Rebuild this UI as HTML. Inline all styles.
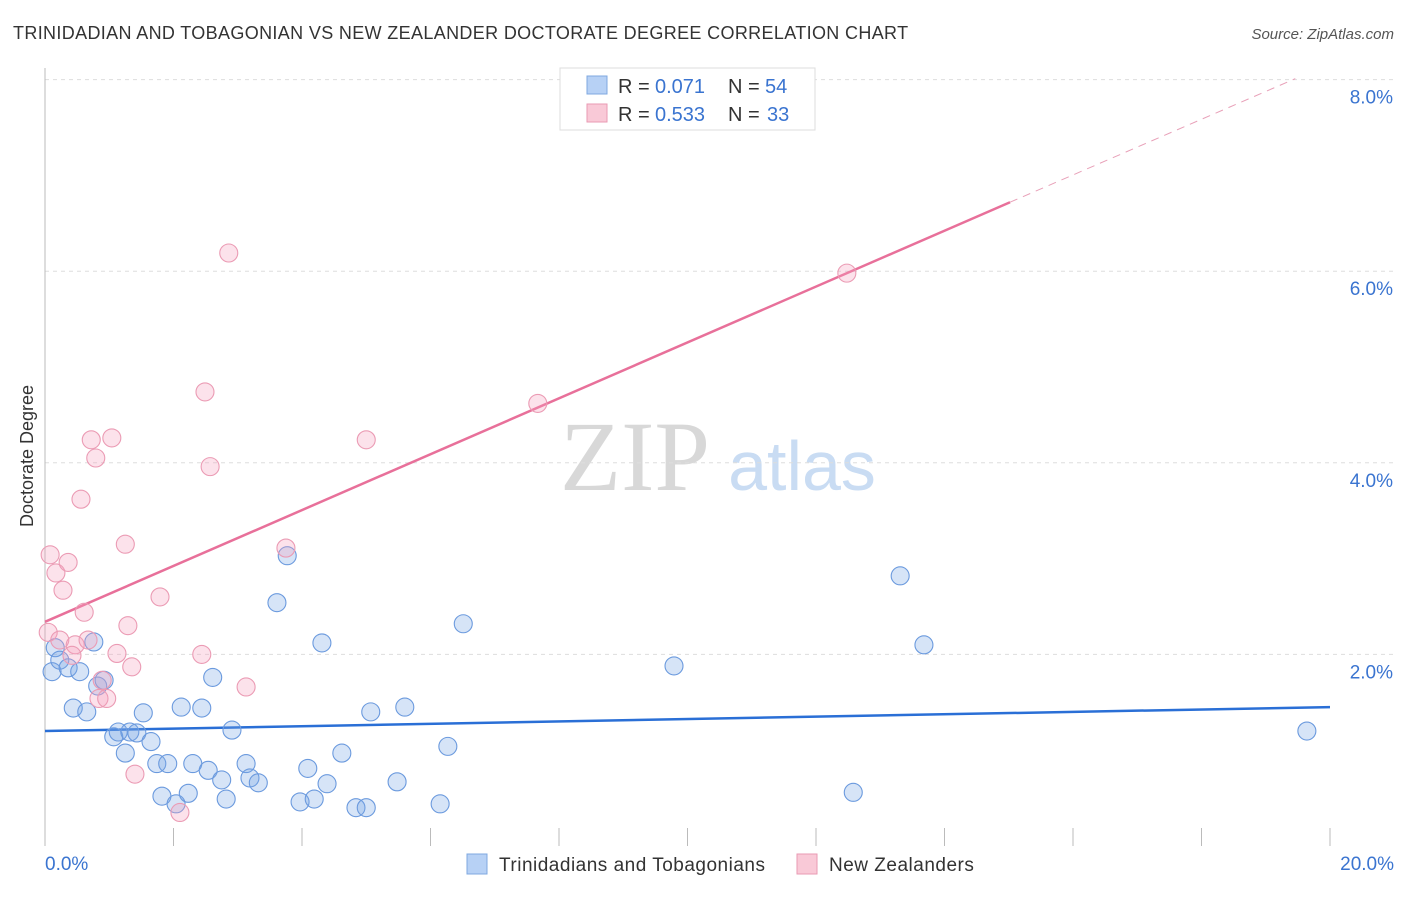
<!DOCTYPE html>
<html><head><meta charset="utf-8"><style>
body{margin:0;background:#fff;font-family:"Liberation Sans",sans-serif;}
</style></head><body>
<svg id="chart" width="1406" height="892" xmlns="http://www.w3.org/2000/svg" font-family="Liberation Sans, sans-serif">
<text x="13" y="39" font-size="18" fill="#333" letter-spacing="0.35">TRINIDADIAN AND TOBAGONIAN VS NEW ZEALANDER DOCTORATE DEGREE CORRELATION CHART</text>
<text x="1394" y="39" font-size="15" fill="#555" font-style="italic" text-anchor="end">Source: ZipAtlas.com</text>
<text transform="translate(33,456) rotate(-90)" font-size="18" fill="#333" text-anchor="middle">Doctorate Degree</text>
<text x="635" y="490" font-size="100" fill="#d8d8d8" style="font-family:'Liberation Serif',serif" text-anchor="middle">ZIP</text>
<text x="802" y="490" font-size="70" fill="#c9dcf3" text-anchor="middle">atlas</text>
<g id="grid"></g><g id="axes"></g><g id="trends"></g><g id="points"></g>
<g>
<rect x="560" y="68" width="255" height="62" fill="#fff" stroke="#ddd"/>
<rect x="587" y="76" width="20" height="18" fill="#b7d1f5" stroke="#7fa8e0"/>
<text x="618" y="93" font-size="20" fill="#333">R = </text><text x="655" y="93" font-size="20" fill="#3a74d0">0.071</text>
<text x="728" y="93" font-size="20" fill="#333">N = </text><text x="765" y="93" font-size="20" fill="#3a74d0">54</text>
<rect x="587" y="104" width="20" height="18" fill="#f9c9d7" stroke="#e99ab3"/>
<text x="618" y="121" font-size="20" fill="#333">R = </text><text x="655" y="121" font-size="20" fill="#3a74d0">0.533</text>
<text x="728" y="121" font-size="20" fill="#333">N = </text><text x="767" y="121" font-size="20" fill="#3a74d0">33</text>
</g>
<g>
<rect x="467" y="854" width="20" height="20" fill="#b7d1f5" stroke="#7fa8e0"/>
<text x="499" y="871" font-size="19" fill="#333" letter-spacing="0.5">Trinidadians and Tobagonians</text>
<rect x="797" y="854" width="20" height="20" fill="#f9c9d7" stroke="#e99ab3"/>
<text x="829" y="871" font-size="19" fill="#333" letter-spacing="0.5">New Zealanders</text>
</g>
</svg>
<script>
const yTicks=[2,4,6,8];
const yTickLabels=["2.0%","4.0%","6.0%","8.0%"];
const xTicks=[0,2,4,6,8,10,12,14,16,18,20];
const xTickLabels=["0.0%","20.0%"];
const blueX=[0.11,0.16,0.23,0.36,0.54,0.76,0.82,0.92,0.44,0.65,1.07,1.14,1.32,1.43,1.25,1.65,1.53,1.74,1.91,1.82,2.04,2.23,2.30,2.54,2.12,2.44,2.61,2.75,2.82,2.91,3.13,3.19,3.32,3.61,3.77,3.97,4.09,4.19,4.31,4.39,4.62,4.84,5.00,5.07,5.48,5.60,6.15,6.27,6.51,9.79,12.58,13.31,13.68,19.64];
const blueY=[1.82,2.07,1.94,1.86,1.82,2.13,1.67,1.73,1.44,1.40,1.14,1.19,1.19,1.18,0.97,1.09,1.39,0.86,0.86,0.52,0.44,0.55,0.86,0.79,1.45,1.44,1.76,0.69,0.49,1.21,0.86,0.71,0.66,2.54,3.03,0.46,0.81,0.49,2.12,0.65,0.97,0.40,0.40,1.40,0.67,1.45,0.44,1.04,2.32,1.88,0.56,2.82,2.10,1.20];
const pinkX=[0.08,0.17,0.36,0.28,0.56,0.72,1.04,0.79,1.25,0.61,0.05,0.23,0.47,0.67,0.42,1.12,0.89,1.35,0.84,0.96,1.29,1.79,1.40,2.10,2.44,2.57,2.49,2.86,3.13,3.75,5.00,7.67,12.48];
const pinkY=[3.04,2.85,2.96,2.67,3.62,4.24,4.26,4.05,3.15,2.44,2.23,2.15,2.10,2.15,1.99,2.01,1.73,1.87,1.54,1.54,2.30,2.60,0.75,0.35,2.00,3.96,4.74,6.19,1.66,3.11,4.24,4.62,5.98];
const blueTrend=[[0,1.20],[20,1.45]];
const pinkTrendSolid=[[0,2.34],[15.02,6.72]];
const pinkTrendDash=[[15.02,6.72],[19.46,8.01]];
const X=v=>45+v*64.25, Y=v=>846-v*95.8;
const NS="http://www.w3.org/2000/svg";
function mk(t,a,p){const e=document.createElementNS(NS,t);for(const k in a)e.setAttribute(k,a[k]);document.getElementById(p).appendChild(e);return e;}
yTicks.forEach((t,i)=>{
 const l=mk('line',{x1:45,x2:1394,y1:Y(t),y2:Y(t),stroke:'#ddd','stroke-dasharray':'4,4'},'grid');
 
 
 const tx=mk('text',{x:1393,y:Y(t)+24,'font-size':19,fill:'#3a74d0','text-anchor':'end'},'grid');
 tx.textContent=yTickLabels[i];
 
 
});
const ax=mk('line',{x1:45,x2:45,y1:68,y2:846,stroke:'#bbb'},'axes');


xTicks.forEach(t=>{
 const l=mk('line',{x1:X(t),x2:X(t),y1:828,y2:846,stroke:'#bbb'},'axes');
 
 
});
const xl0=mk('text',{x:45,y:870,'font-size':19,fill:'#3a74d0'},'axes');xl0.textContent=xTickLabels[0];


const xl1=mk('text',{x:1394,y:870,'font-size':19,fill:'#3a74d0','text-anchor':'end'},'axes');xl1.textContent=xTickLabels[1];


function line(seg,col,dash,name){const l=mk('line',{x1:X(seg[0][0]),y1:Y(seg[0][1]),x2:X(seg[1][0]),y2:Y(seg[1][1]),stroke:col,'stroke-width':dash?1:2.5},'trends');if(dash)l.setAttribute('stroke-dasharray','8,6');
 
 }
line(pinkTrendSolid,'#e8709a',false,'pink-trend-line');
line(pinkTrendDash,'#e8a0b8',true,'pink-trend-extension');
line(blueTrend,'#2a6fd6',false,'blue-trend-line');
blueX.forEach((v,i)=>{const c=mk('circle',{cx:X(v),cy:Y(blueY[i]),r:9,fill:'rgba(120,165,230,0.3)',stroke:'#6b9ade','stroke-width':1.1},'points');
 
 });
pinkX.forEach((v,i)=>{const c=mk('circle',{cx:X(v),cy:Y(pinkY[i]),r:9,fill:'rgba(245,160,190,0.3)',stroke:'#eb9bb4','stroke-width':1.1},'points');
 
 });
</script>
</body></html>
